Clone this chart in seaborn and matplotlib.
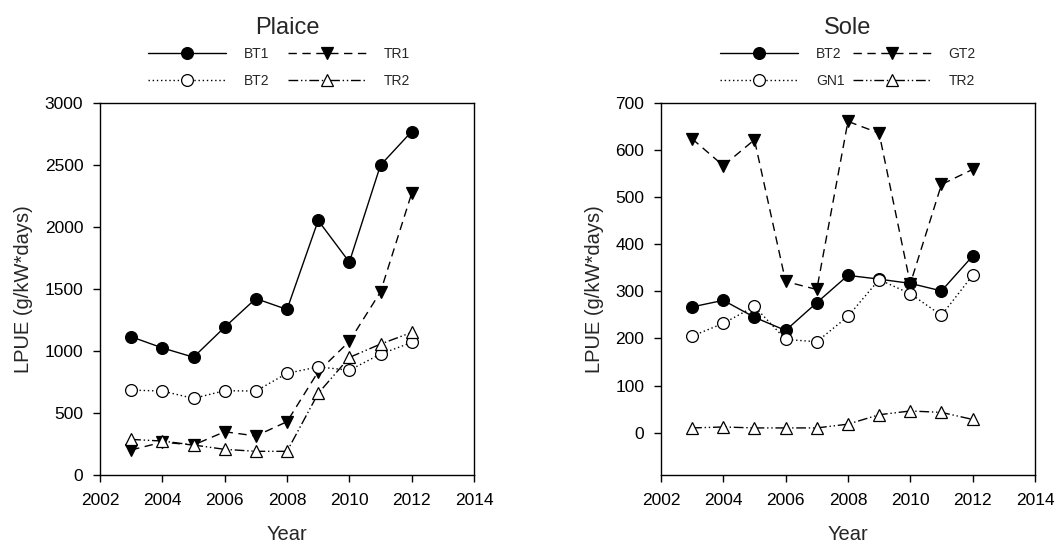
import matplotlib
matplotlib.use("Agg")
import matplotlib.pyplot as plt
import seaborn as sns
import pandas as pd

years = [2003, 2004, 2005, 2006, 2007, 2008, 2009, 2010, 2011, 2012]

# Plaice LPUE by fleet segment
plaice_bt1 = [1115, 1025, 950, 1192, 1423, 1335, 2053, 1717, 2499, 2770]
plaice_tr1 = [202, 265, 242, 349, 315, 430, 833, 1078, 1477, 2272]
plaice_bt2 = [685, 677, 618, 680, 677, 820, 872, 845, 975, 1069]
plaice_tr2 = [287, 274, 242, 207, 191, 191, 658, 948, 1056, 1150]

# Sole LPUE by fleet segment
sole_bt2 = [267, 281, 245, 217, 276, 334, 326, 317, 301, 375]
sole_gt2 = [624, 567, 622, 321, 304, 661, 636, 316, 527, 559]
sole_gn1 = [205, 232, 268, 198, 193, 247, 325, 295, 249, 334]
sole_tr2 = [10, 12, 10, 10, 10, 18, 38, 46, 43, 28]

sns.set_theme(style="ticks")
plt.rcParams["font.family"] = ["Liberation Sans", "DejaVu Sans"]

STYLES = {
    "solid_dot": dict(linestyle="-", marker="o", markerfacecolor="black"),
    "dash_tri": dict(linestyle=(0, (6, 4)), marker="v", markerfacecolor="black"),
    "dot_circle": dict(linestyle=(0, (1, 2)), marker="o", markerfacecolor="white"),
    "dashdot_tri": dict(linestyle=(0, (7, 2, 1, 2, 1, 2)), marker="^", markerfacecolor="white"),
}

fig = plt.figure(figsize=(10.55, 5.42), dpi=100)
ax1 = fig.add_axes([0.0948, 0.1236, 0.3545, 0.6863])
ax2 = fig.add_axes([0.6265, 0.1236, 0.3545, 0.6863])


def draw(ax, series, ylim, yticks, title, colsp, legx):
    for label, vals, key in series:
        df = pd.DataFrame({"Year": years, "LPUE": vals})
        sns.lineplot(data=df, x="Year", y="LPUE", ax=ax, color="black",
                     linewidth=1.0, markersize=8.5, markeredgecolor="black",
                     markeredgewidth=0.9, label=label, **STYLES[key])
    ax.set_xlim(2002, 2014)
    ax.set_xticks(range(2002, 2015, 2))
    ax.set_ylim(*ylim)
    ax.set_yticks(yticks)
    ax.tick_params(direction="out", length=5, width=1, labelsize=12.5, colors="black")
    ax.tick_params(axis="y", pad=7)
    ax.tick_params(axis="x", pad=8)
    for s in ax.spines.values():
        s.set_visible(True)
        s.set_color("black")
        s.set_linewidth(1.0)
    ax.set_xlabel("Year", fontsize=14.5, labelpad=12)
    ax.set_ylabel("LPUE (g/kW*days)", fontsize=14.5, labelpad=8)
    ax.set_title(title, fontsize=17, pad=50)
    handles, labels = ax.get_legend_handles_labels()
    order = [0, 2, 1, 3]
    ax.legend([handles[i] for i in order], [labels[i] for i in order],
              ncol=2, loc="lower center", bbox_to_anchor=(legx, 1.019),
              frameon=False, fontsize=10, handlelength=5.6, handletextpad=1.3,
              columnspacing=colsp, labelspacing=0.9, numpoints=1,
              borderaxespad=0.2)


draw(ax1, [("BT1", plaice_bt1, "solid_dot"), ("TR1", plaice_tr1, "dash_tri"),
           ("BT2", plaice_bt2, "dot_circle"), ("TR2", plaice_tr2, "dashdot_tri")],
     (0, 3000), range(0, 3001, 500), "Plaice", 1.3, 0.479)
draw(ax2, [("BT2", sole_bt2, "solid_dot"), ("GT2", sole_gt2, "dash_tri"),
           ("GN1", sole_gn1, "dot_circle"), ("TR2", sole_tr2, "dashdot_tri")],
     (-90, 700), range(0, 701, 100), "Sole", 0.6, 0.5)

fig.savefig("out.png", dpi=100)
